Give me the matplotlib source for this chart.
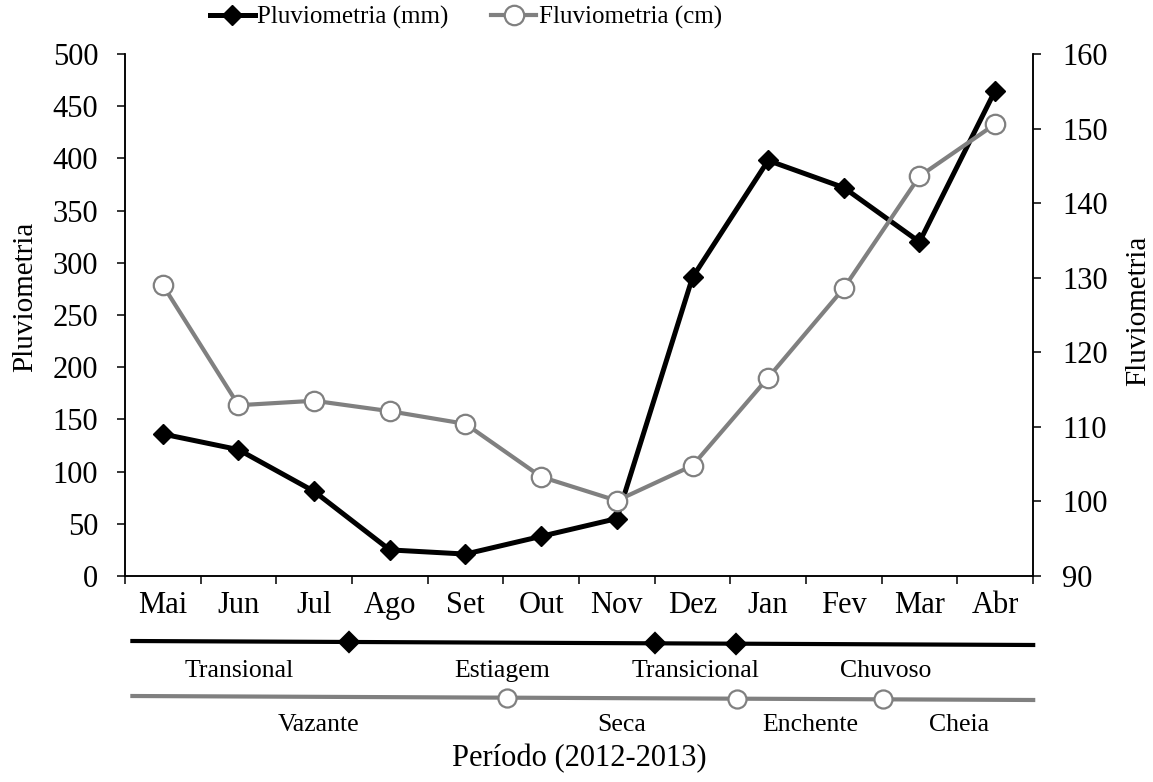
import numpy as np
import matplotlib
matplotlib.use("Agg")
import matplotlib.pyplot as plt

plt.rcParams['font.family'] = ['Liberation Serif', 'DejaVu Serif']

# Data
meses = ['Mai', 'Jun', 'Jul', 'Ago', 'Set', 'Out', 'Nov', 'Dez', 'Jan', 'Fev', 'Mar', 'Abr']
pluviometria = [136, 121, 81, 25, 21, 38, 55, 286, 398, 372, 320, 465]
fluviometria = [129.0, 112.9, 113.5, 112.1, 110.4, 103.3, 100.1, 104.8, 116.6, 128.6, 143.6, 150.6]

# Periods (boundaries given in month index units)
fases_pluvio = ['Transional', 'Estiagem', 'Transicional', 'Chuvoso']
limites_pluvio = [2.46, 6.5, 7.57]
fases_fluvio = ['Vazante', 'Seca', 'Enchente', 'Cheia']
limites_fluvio = [4.55, 7.59, 9.52]

preto = 'black'
cinza = '#808080'

fig = plt.figure(figsize=(11.53, 7.82), dpi=100)
W, H = 1153, 782
ax = fig.add_axes([125 / W, 1 - 576 / H, 908 / W, 522 / H])
x = np.arange(len(meses))

l1, = ax.plot(x, pluviometria, color=preto, lw=3.6, marker='D', ms=10,
              mfc=preto, mec=preto, label='Pluviometria (mm)', clip_on=False, zorder=3)
ax.set_xlim(-0.5, 11.5)
ax.set_ylim(0, 500)
ax.set_yticks(np.arange(0, 501, 50))

ax2 = ax.twinx()
l2, = ax2.plot(x, fluviometria, color=cinza, lw=3.0, marker='o', ms=14,
               mfc='white', mec=cinza, mew=1.6, label='Fluviometria (cm)', clip_on=False, zorder=3)
ax2.set_ylim(90, 160)
ax2.set_yticks(np.arange(90, 161, 10))

for a in (ax, ax2):
    a.spines['top'].set_visible(False)
    for s in ('left', 'right', 'bottom'):
        a.spines[s].set_linewidth(1.1)

ax.set_xticks(np.arange(-0.5, 12, 1))
ax.set_xticklabels([])
ax.set_xticks(x, meses, minor=True)
ax.tick_params(axis='x', which='major', direction='out', length=5.8, width=1.1)
ax.tick_params(axis='x', which='minor', length=0, pad=11, labelsize=22)
ax.tick_params(axis='y', direction='out', length=5.8, width=1.1, pad=13.5, labelsize=22)
ax2.tick_params(axis='y', direction='out', length=5.8, width=1.1, pad=15, labelsize=22)

ax.text(-0.110, 0.534, 'Pluviometria', transform=ax.transAxes, rotation=90,
        ha='center', va='center', fontsize=21)
ax.text(1.1156, 0.508, 'Fluviometria', transform=ax.transAxes, rotation=90,
        ha='center', va='center', fontsize=21)

fig.legend([l1, l2], [l1.get_label(), l2.get_label()], loc='center',
           bbox_to_anchor=(0.404, 0.978), ncol=2, frameon=False, fontsize=18,
           handlelength=1.8, handletextpad=0.1, columnspacing=1.7)

# Period strips below the x axis (y in pixel rows)
axp = fig.add_axes([125 / W, 0, 908 / W, 172 / H])
axp.set_xlim(-0.5, 11.5)
axp.set_ylim(782, 610)
axp.axis('off')

x0, x1 = -0.43, 11.53

def faixa(limites, fases, y0, y1, cor, lw, mk, ms, mfc, mec, y_txt):
    axp.plot([x0, x1], [y0, y1], color=cor, lw=lw, solid_capstyle='butt', clip_on=False)
    ym = np.interp(limites, [x0, x1], [y0, y1])
    axp.plot(limites, ym, ls='none', marker=mk, ms=ms, mfc=mfc, mec=mec, mew=1.6, clip_on=False)
    bordas = [x0] + list(limites) + [x1]
    for i, nome in enumerate(fases):
        xm = (bordas[i] + bordas[i + 1]) / 2
        axp.text(xm, y_txt, nome, ha='center', va='baseline', fontsize=18.5)

faixa(limites_pluvio, fases_pluvio, 641, 645, preto, 3.0, 'D', 10, preto, preto, 677)
faixa(limites_fluvio, fases_fluvio, 696, 700, cinza, 3.0, 'o', 13, 'white', cinza, 731)

axp.text(5.5, 766, 'Período (2012-2013)', ha='center', va='baseline', fontsize=22)

fig.savefig('out.png', dpi=100)
